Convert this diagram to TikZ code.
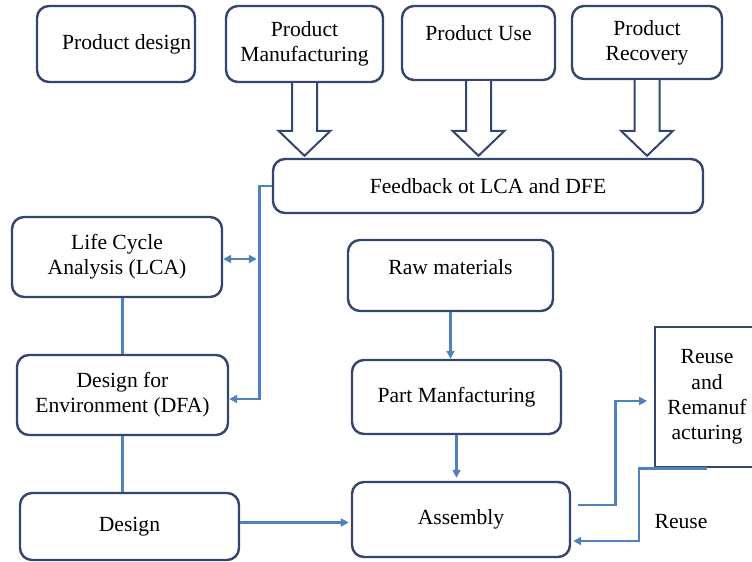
\documentclass[tikz,border=0pt]{standalone}
\usepackage{fontspec}
\setmainfont{Liberation Serif}
\usetikzlibrary{arrows.meta,calc}

\definecolor{boxc}{HTML}{34466E}
\definecolor{linkc}{HTML}{4F81BD}

\tikzset{
  stage/.style 2 args={draw=boxc,line width=1.8pt,rounded corners=9pt,fill=white,
    minimum width=#1*0.75pt,minimum height=#2*0.75pt,inner sep=2pt,align=center,
    font=\fontsize{16.2}{19}\selectfont},
  raised/.style={text depth=#1},
  link/.style={draw=linkc,line width=2pt},
  tip/.style={-{Triangle[length=6pt,width=6pt]}},
  hollow/.style={draw=boxc,line width=1.5pt,fill=white,line join=miter}
}

\begin{document}
\begin{tikzpicture}[x=0.75pt,y=-0.75pt]
\useasboundingbox (0,0) rectangle (752,561);
\clip (0,0) rectangle (752,561);
% top row
\node[stage={158}{76}] (pdesign) at (116,44) {\hspace*{16pt}Product design};
\node[stage={157}{76}] (manuf) at (304.5,44) {Product\\Manufacturing};
\node[stage={153}{74},raised=15pt] (use) at (478.5,43) {Product Use};
\node[stage={150}{73}] (recov) at (647,42.5) {Product\\Recovery};
\node[stage={430}{54}] (fb) at (488,186) {Feedback ot LCA and DFE};
% left column
\node[stage={210}{80}] (lca) at (117,257) {Life Cycle\\Analysis (LCA)};
\node[stage={211}{80}] (dfe) at (122.5,395) {Design for\\Environment (DFA)};
\node[stage={219}{67}] (design) at (129.5,526.5) {Design};
% middle column
\node[stage={205}{71},raised=13pt] (raw) at (450.5,275.5) {Raw materials};
\node[stage={209}{74}] (part) at (456.5,397) {Part Manfacturing};
\node[stage={218}{75}] (asm) at (461,519.5) {Assembly};
\node[stage={104}{140},rounded corners=0pt] (reman) at (707,397) {Reuse\\and\\Remanuf\\acturing};
\node[font=\fontsize{16.2}{19}\selectfont] (reuse) at (681,522) {Reuse};

% hollow arrows into the feedback box
\foreach \n in {manuf,use,recov} {
  \draw[hollow] ($(\n.south)+(-12.5,0)$) -- ($(\n.south |- fb.north)+(-12.5,-27)$)
    -- ($(\n.south |- fb.north)+(-26,-27)$) -- ($(\n.south |- fb.north)+(0,-2)$)
    -- ($(\n.south |- fb.north)+(26,-27)$) -- ($(\n.south |- fb.north)+(12.5,-27)$)
    -- ($(\n.south)+(12.5,0)$);
}

% feedback bus
\coordinate (bus) at ($(fb.west)+(-12,0)$);
\draw[link,tip] (fb.west) -- (bus) |- ($(dfe.east)+(0,4)$);
\draw[link,{Triangle[length=6pt,width=6pt]}-{Triangle[length=6pt,width=6pt]}]
  ($(lca.east)+(0,2)$) -- ($(lca.east -| bus)+(-3,2)$);
\draw[link] (dfe.north) -- (dfe.north |- lca.south);
\draw[link] (dfe.south) -- (dfe.south |- design.north);
\draw[link,tip] ($(design.east)+(0,-4)$) -- ($(design.east -| asm.west)+(-2,-4)$);

% production chain
\draw[link,tip] (raw.south) -- (raw.south |- part.north);
\draw[link,tip] (part.south) -- ($(part.south |- asm.north)+(0,-3)$);
\draw[link,tip,shorten >=5pt] ($(asm.east)+(7,-14.5)$) -- ++(37,0) |- ($(reman.west)+(0,4)$);
\draw[link,tip] (reman.south) -- ++(-68,0) |- ($(asm.east)+(2,21.5)$);
\end{tikzpicture}
\end{document}
